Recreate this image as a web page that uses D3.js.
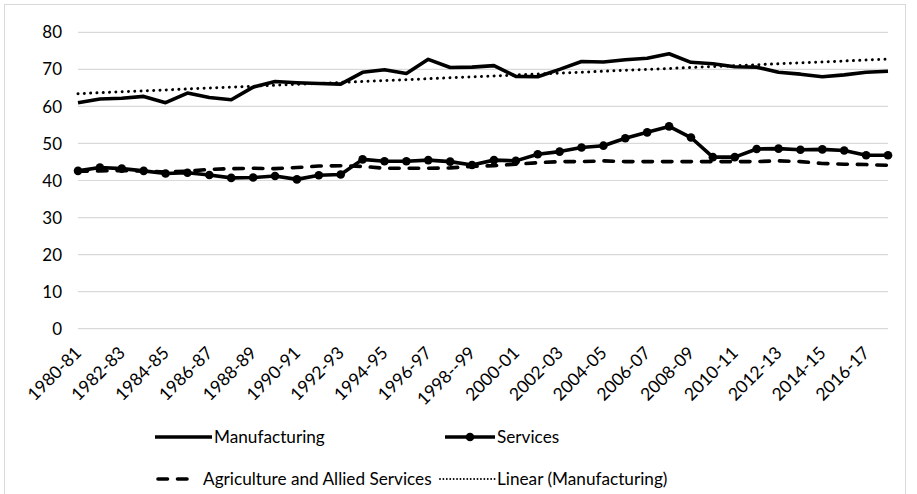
<!DOCTYPE html>
<html><head><meta charset="utf-8">
<script src="https://cdn.jsdelivr.net/npm/d3@7"></script>
<style>body{margin:0;background:#fff}text{font-family:Lato,"Open Sans",sans-serif;fill:#000}</style>
</head><body><svg id="c" width="917" height="494"></svg>
<script>
const categories = ["1980-81","1981-82","1982-83","1983-84","1984-85","1985-86","1986-87","1987-88","1988-89","1989-90","1990-91","1991-92","1992-93","1993-94","1994-95","1995-96","1996-97","1997-98","1998--99","1999-00","2000-01","2001-02","2002-03","2003-04","2004-05","2005-06","2006-07","2007-08","2008-09","2009-10","2010-11","2011-12","2012-13","2013-14","2014-15","2015-16","2016-17","2017-18"];
const manufacturing = [61.0,62.0,62.2,62.7,61.0,63.6,62.4,61.8,65.2,66.7,66.4,66.2,66.0,69.2,69.9,68.9,72.7,70.5,70.6,71.0,68.1,68.0,70.0,72.1,72.0,72.6,73.0,74.2,71.9,71.5,70.7,70.6,69.2,68.7,68.0,68.5,69.2,69.5];
const services = [42.6,43.5,43.2,42.6,41.9,42.1,41.5,40.7,40.8,41.2,40.3,41.4,41.6,45.7,45.2,45.2,45.5,45.1,44.2,45.5,45.3,47.1,47.8,48.9,49.4,51.4,53.0,54.6,51.6,46.3,46.3,48.5,48.6,48.3,48.4,48.1,46.8,46.8];
const agriculture = [42.5,42.6,42.7,42.5,42.3,42.5,43.0,43.2,43.3,43.2,43.5,43.9,44.0,43.8,43.3,43.3,43.3,43.4,43.8,44.0,44.4,44.8,45.1,45.1,45.3,45.1,45.1,45.1,45.1,45.1,45.1,45.1,45.3,45.1,44.6,44.4,44.3,44.1];
const yTicks = [0,10,20,30,40,50,60,70,80];

// Linear trend (least squares) for Manufacturing, as Excel computes it
const n = manufacturing.length;
const xm = d3.mean(d3.range(n)), ym = d3.mean(manufacturing);
const slope = d3.sum(d3.range(n), i => (i - xm) * (manufacturing[i] - ym)) / d3.sum(d3.range(n), i => (i - xm) ** 2);
const intercept = ym - slope * xm;
const trend = d3.range(n).map(i => intercept + slope * i);

const svg = d3.select("#c");
svg.append("rect").attr("x",4.5).attr("y",4.5).attr("width",901).attr("height",500)
  .attr("fill","#fff").attr("stroke","#d9d9d9").attr("stroke-width",1);

const x = d3.scalePoint().domain(categories).range([78, 888]);
const y = d3.scaleLinear().domain([0, 80]).range([328.7, 32.3]);

// gridlines
svg.append("g").selectAll("line").data(yTicks).join("line")
  .attr("x1",78).attr("x2",888).attr("y1",d=>y(d)).attr("y2",d=>y(d))
  .attr("stroke","#d9d9d9").attr("stroke-width",1.2);

// y axis labels
const yAxis = svg.append("g").attr("transform","translate(62,0)")
  .call(d3.axisLeft(y).tickValues(yTicks).tickSize(0).tickPadding(0));
yAxis.select(".domain").remove();
yAxis.selectAll("text").style("font-size","17px").style("font-family","Lato").attr("dy","0.33em");

// x axis labels
const xAxis = svg.append("g").attr("transform","translate(0,330)")
  .call(d3.axisBottom(x).tickValues(categories.filter((d,i)=>i%2===0)).tickSize(0).tickPadding(0));
xAxis.select(".domain").remove();
xAxis.selectAll("text").style("font-size","17.5px").style("font-family","Lato")
  .attr("text-anchor","end").attr("dy",0).attr("y",0)
  .attr("transform","translate(4,24) rotate(-45)");

const line = d3.line().x((d,i)=>x(categories[i])).y(d=>y(d));
const g = svg.append("g");
g.append("path").datum(agriculture).attr("d",line).attr("fill","none")
  .attr("stroke","#000").attr("stroke-width",3.6).attr("stroke-dasharray","9.5,10").attr("stroke-linecap","round");
g.append("path").datum(trend).attr("d",line).attr("fill","none")
  .attr("stroke","#000").attr("stroke-width",3).attr("stroke-dasharray","0.01,6.3").attr("stroke-linecap","round");
g.append("path").datum(manufacturing).attr("d",line).attr("fill","none")
  .attr("stroke","#000").attr("stroke-width",3.6).attr("stroke-linejoin","round");
g.append("path").datum(services).attr("d",line).attr("fill","none")
  .attr("stroke","#000").attr("stroke-width",3.6).attr("stroke-linejoin","round");
g.selectAll("circle").data(services).join("circle")
  .attr("cx",(d,i)=>x(categories[i])).attr("cy",d=>y(d)).attr("r",4.3).attr("fill","#000");

// legend
const lg = svg.append("g").style("font-size","17.2px");
const items = [
  {name:"Manufacturing", x1:155, x2:212, y:437, type:"solid"},
  {name:"Services", x1:445, x2:495, y:437, type:"marker"},
  {name:"Agriculture and Allied Services", x1:158, x2:196, y:479, type:"dash"},
  {name:"Linear (Manufacturing)", x1:440, x2:495, y:479, type:"dot"}
];
items.forEach(it => {
  const l = lg.append("line").attr("x1",it.x1).attr("x2",it.x2).attr("y1",it.y).attr("y2",it.y).attr("stroke","#000");
  if (it.type==="solid"||it.type==="marker") l.attr("stroke-width",3.6);
  if (it.type==="dash") l.attr("stroke-width",3.6).attr("stroke-dasharray","9.5,10").attr("stroke-linecap","round");
  if (it.type==="dot") l.attr("stroke-width",1.9).attr("stroke-dasharray","0.01,3.4").attr("stroke-linecap","round");
  if (it.type==="marker") lg.append("circle").attr("cx",(it.x1+it.x2)/2).attr("cy",it.y).attr("r",4.3).attr("fill","#000");
  lg.append("text").attr("x", it.type==="dash" ? 203 : it.x2+2).attr("y",it.y).attr("dy","0.35em").text(it.name);
});
</script></body></html>
